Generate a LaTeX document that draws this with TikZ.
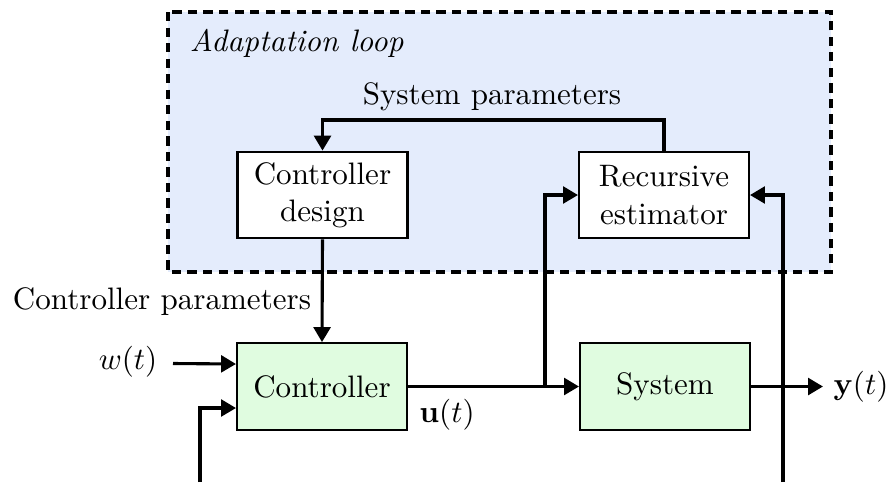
\documentclass[tikz,border=0pt]{standalone}
\usetikzlibrary{arrows.meta,calc}
\definecolor{loopblue}{RGB}{228,236,252}
\definecolor{boxgreen}{RGB}{224,252,224}
\begin{document}
\begin{tikzpicture}[x=0.322pt,y=-0.322pt,
  blockbox/.style={draw,line width=0.7pt,minimum width=54.7pt,minimum height=27.9pt,inner sep=0pt,align=center},
  arr/.style={line width=1pt,-{Triangle[length=4.8pt,width=5.4pt]}},
  wire/.style={line width=1pt}]
\useasboundingbox (0,0) rectangle (894,482);
\draw[fill=loopblue,line width=1pt,dash pattern=on 3pt off 2pt] (168,12) rectangle (831,272);
\node[anchor=west] (loop) at (179,43) {\textit{Adaptation loop}};
\node[blockbox,fill=white] (cd) at (322.5,195) {Controller\\design};
\node[blockbox,fill=white] (re) at (664,195) {Recursive\\estimator};
\node[blockbox,fill=boxgreen] (ctrl) at (322,386.5) {Controller};
\node[blockbox,fill=boxgreen] (sys) at (665,386.5) {System};
\coordinate (top) at (0,120);
\node (sp) at (492,97) {System parameters};
\draw[arr] (re.north) -- (re.north |- top) -- (cd.north |- top) -- (cd.north);
\draw[arr] (cd.south) -- (ctrl.north);
\node (cp) at (162,302) {Controller parameters};
\node (w) at (128,362) {$w(t)$};
\coordinate (win) at (173,363.5);
\draw[arr] (win) -- ($(ctrl.west)+(0,-22.5)$);
\coordinate (bl) at (200,482);
\draw[arr] (bl) |- ($(ctrl.west)+(0,21.5)$);
\coordinate (br) at (545,386.5);
\draw[arr] (ctrl.east) -- (sys.west);
\draw[arr] (br) |- (re.west);
\node (u) at (447,415) {$\mathbf{u}(t)$};
\coordinate (yout) at (823,386.5);
\draw[arr] (sys.east) -- (yout);
\node (y) at (861,387) {$\mathbf{y}(t)$};
\coordinate (brr) at (783,482);
\draw[arr] (brr) |- (re.east);
\end{tikzpicture}
\end{document}
